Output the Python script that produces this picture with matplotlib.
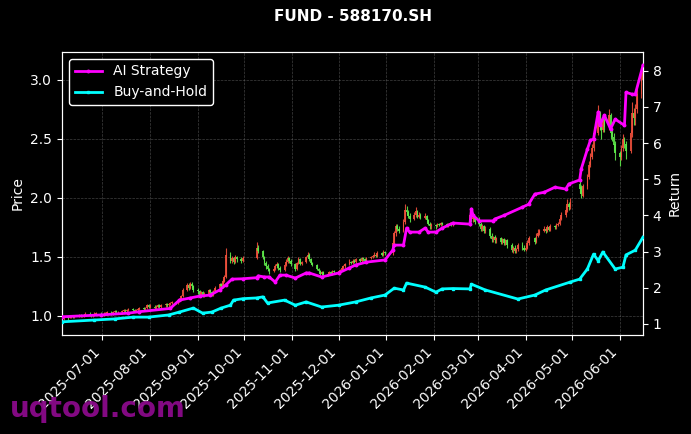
import matplotlib
matplotlib.use("Agg")
import matplotlib.pyplot as plt
import matplotlib.dates as mdates
import numpy as np
import pandas as pd

# trading calendar (CN holidays removed)
holidays = ["2025-10-01", "2025-10-02", "2025-10-03", "2025-10-06", "2025-10-07",
            "2025-10-08", "2026-01-01", "2026-01-02", "2026-02-16", "2026-02-17",
            "2026-02-18", "2026-02-19", "2026-02-20", "2026-02-23", "2026-04-06",
            "2026-05-01", "2026-05-04", "2026-05-05"]

# daily OHLC, one row per month (Jun 2025 .. Jun 2026)
open_ = [
    0.97, 0.98, 0.99, 0.98, 0.99, 1.00, 0.99, 1.00, 1.01, 1.00, 1.00, 1.01, 1.02, 1.01, 1.00, 1.01, 1.02, 1.02,
    1.01, 1.01, 1.02, 1.02, 1.03, 1.02, 1.03, 1.04, 1.03, 1.03, 1.04, 1.05, 1.04, 1.05, 1.06, 1.05, 1.04, 1.05, 1.06, 1.07, 1.06, 1.07, 1.09,
    1.08, 1.08, 1.07, 1.08, 1.09, 1.08, 1.09, 1.10, 1.09, 1.10, 1.11, 1.12, 1.11, 1.13, 1.14, 1.17, 1.22, 1.26, 1.24, 1.27, 1.25,
    1.22, 1.21, 1.18, 1.20, 1.17, 1.19, 1.22, 1.20, 1.18, 1.21, 1.24, 1.27, 1.25, 1.30, 1.33, 1.52, 1.47, 1.49, 1.46, 1.50, 1.48, 1.47,
    1.49, 1.58, 1.55, 1.50, 1.45, 1.42, 1.40, 1.38, 1.40, 1.42, 1.44, 1.41, 1.39, 1.43, 1.46, 1.49, 1.47,
    1.44, 1.40, 1.45, 1.48, 1.44, 1.46, 1.50, 1.52, 1.48, 1.45, 1.43, 1.40, 1.38, 1.36, 1.37, 1.35, 1.36, 1.37, 1.36, 1.38,
    1.37, 1.38, 1.39, 1.41, 1.42, 1.44, 1.46, 1.45, 1.47, 1.46, 1.48, 1.47, 1.49, 1.48, 1.47, 1.49, 1.50, 1.51, 1.52, 1.51, 1.53, 1.52, 1.54,
    1.53, 1.62, 1.70, 1.76, 1.74, 1.72, 1.80, 1.90, 1.88, 1.85, 1.82, 1.86, 1.89, 1.84, 1.86, 1.83, 1.85, 1.81, 1.78, 1.76,
    1.77, 1.76, 1.78, 1.77, 1.79, 1.78, 1.76, 1.78, 1.79, 1.77, 1.78, 1.86, 1.82, 1.84,
    1.80, 1.78, 1.74, 1.76, 1.72, 1.74, 1.68, 1.65, 1.67, 1.64, 1.66, 1.63, 1.65, 1.62, 1.64, 1.60, 1.56, 1.58, 1.55, 1.57, 1.60, 1.58,
    1.56, 1.58, 1.62, 1.66, 1.63, 1.68, 1.70, 1.72, 1.74, 1.72, 1.75, 1.73, 1.76, 1.75, 1.77, 1.78, 1.82, 1.86, 1.90, 1.95, 1.92,
    2.12, 2.09, 2.02, 2.10, 2.18, 2.28, 2.35, 2.42, 2.55, 2.72, 2.64, 2.58, 2.66, 2.62, 2.70, 2.56, 2.52, 2.46,
    2.38, 2.35, 2.42, 2.50, 2.46, 2.40, 2.55, 2.72, 2.68, 2.75, 2.88, 3.00,
]
high = [
    0.99, 1.00, 0.99, 1.00, 1.01, 1.01, 1.01, 1.02, 1.02, 1.01, 1.02, 1.03, 1.03, 1.02, 1.02, 1.03, 1.03, 1.03,
    1.02, 1.03, 1.03, 1.04, 1.04, 1.04, 1.05, 1.05, 1.04, 1.05, 1.06, 1.06, 1.06, 1.07, 1.07, 1.06, 1.06, 1.07, 1.08, 1.08, 1.08, 1.10, 1.10,
    1.10, 1.09, 1.09, 1.10, 1.10, 1.10, 1.11, 1.11, 1.11, 1.12, 1.13, 1.13, 1.14, 1.15, 1.18, 1.24, 1.28, 1.28, 1.29, 1.29, 1.26,
    1.24, 1.22, 1.21, 1.21, 1.20, 1.23, 1.23, 1.21, 1.22, 1.25, 1.28, 1.28, 1.31, 1.35, 1.58, 1.54, 1.51, 1.50, 1.52, 1.51, 1.50, 1.51,
    1.63, 1.60, 1.56, 1.51, 1.47, 1.44, 1.41, 1.41, 1.44, 1.46, 1.45, 1.42, 1.44, 1.48, 1.51, 1.50, 1.48,
    1.45, 1.46, 1.50, 1.49, 1.47, 1.51, 1.54, 1.53, 1.49, 1.46, 1.44, 1.41, 1.39, 1.38, 1.38, 1.37, 1.38, 1.38, 1.39, 1.39,
    1.39, 1.40, 1.42, 1.43, 1.45, 1.48, 1.47, 1.48, 1.48, 1.49, 1.49, 1.50, 1.50, 1.49, 1.50, 1.51, 1.52, 1.54, 1.53, 1.55, 1.54, 1.56, 1.55,
    1.64, 1.72, 1.78, 1.78, 1.76, 1.82, 1.95, 1.93, 1.90, 1.87, 1.88, 1.92, 1.90, 1.88, 1.87, 1.87, 1.86, 1.82, 1.80, 1.79,
    1.78, 1.79, 1.79, 1.80, 1.80, 1.79, 1.79, 1.80, 1.80, 1.79, 1.90, 1.88, 1.86, 1.85,
    1.84, 1.80, 1.78, 1.77, 1.76, 1.75, 1.70, 1.68, 1.69, 1.67, 1.67, 1.66, 1.66, 1.65, 1.65, 1.62, 1.59, 1.60, 1.58, 1.62, 1.63, 1.60,
    1.60, 1.64, 1.68, 1.67, 1.70, 1.74, 1.74, 1.76, 1.75, 1.77, 1.76, 1.78, 1.77, 1.79, 1.80, 1.84, 1.88, 1.93, 1.99, 1.97, 2.00,
    2.14, 2.11, 2.12, 2.20, 2.31, 2.38, 2.46, 2.60, 2.79, 2.74, 2.66, 2.70, 2.68, 2.75, 2.72, 2.58, 2.55, 2.48,
    2.40, 2.45, 2.54, 2.52, 2.48, 2.58, 2.81, 2.76, 2.80, 2.92, 3.05, 3.13,
]
low = [
    0.96, 0.97, 0.97, 0.98, 0.98, 0.98, 0.98, 0.99, 0.99, 0.99, 0.99, 1.00, 1.00, 0.99, 0.99, 1.00, 1.01, 1.00,
    1.00, 1.00, 1.01, 1.01, 1.01, 1.01, 1.02, 1.02, 1.02, 1.02, 1.03, 1.03, 1.03, 1.04, 1.04, 1.03, 1.03, 1.04, 1.05, 1.05, 1.05, 1.06, 1.07,
    1.07, 1.06, 1.06, 1.07, 1.07, 1.07, 1.08, 1.08, 1.08, 1.09, 1.10, 1.10, 1.10, 1.12, 1.13, 1.16, 1.21, 1.22, 1.23, 1.24, 1.20,
    1.19, 1.16, 1.17, 1.16, 1.16, 1.18, 1.19, 1.17, 1.17, 1.20, 1.23, 1.24, 1.24, 1.29, 1.32, 1.45, 1.45, 1.44, 1.45, 1.46, 1.45, 1.46,
    1.48, 1.53, 1.48, 1.43, 1.40, 1.38, 1.36, 1.37, 1.39, 1.41, 1.39, 1.37, 1.38, 1.42, 1.45, 1.45, 1.42,
    1.38, 1.39, 1.44, 1.43, 1.43, 1.45, 1.49, 1.47, 1.44, 1.42, 1.39, 1.37, 1.35, 1.35, 1.34, 1.34, 1.35, 1.35, 1.35, 1.36,
    1.36, 1.37, 1.38, 1.40, 1.41, 1.43, 1.44, 1.44, 1.45, 1.45, 1.46, 1.46, 1.47, 1.46, 1.46, 1.48, 1.49, 1.50, 1.50, 1.50, 1.51, 1.51, 1.52,
    1.52, 1.60, 1.68, 1.72, 1.70, 1.71, 1.78, 1.86, 1.83, 1.80, 1.81, 1.84, 1.83, 1.83, 1.82, 1.82, 1.80, 1.77, 1.74, 1.74,
    1.74, 1.75, 1.76, 1.76, 1.77, 1.75, 1.75, 1.77, 1.76, 1.76, 1.76, 1.80, 1.80, 1.78,
    1.76, 1.72, 1.72, 1.70, 1.70, 1.66, 1.63, 1.63, 1.62, 1.62, 1.61, 1.61, 1.60, 1.60, 1.58, 1.54, 1.53, 1.53, 1.53, 1.55, 1.56, 1.55,
    1.55, 1.57, 1.60, 1.61, 1.62, 1.67, 1.69, 1.71, 1.70, 1.71, 1.72, 1.72, 1.74, 1.74, 1.76, 1.77, 1.81, 1.84, 1.88, 1.90, 1.91,
    2.04, 2.00, 2.01, 2.08, 2.16, 2.26, 2.33, 2.40, 2.53, 2.58, 2.50, 2.56, 2.56, 2.58, 2.50, 2.48, 2.40, 2.32,
    2.27, 2.32, 2.40, 2.42, 2.33, 2.38, 2.52, 2.62, 2.62, 2.72, 2.85, 2.96,
]
close = [
    0.98, 0.99, 0.98, 0.99, 1.00, 0.99, 1.00, 1.01, 1.00, 1.00, 1.01, 1.02, 1.01, 1.00, 1.01, 1.02, 1.02, 1.01,
    1.01, 1.02, 1.02, 1.03, 1.02, 1.03, 1.04, 1.03, 1.03, 1.04, 1.05, 1.04, 1.05, 1.06, 1.05, 1.04, 1.05, 1.06, 1.07, 1.06, 1.07, 1.09, 1.08,
    1.08, 1.07, 1.08, 1.09, 1.08, 1.09, 1.10, 1.09, 1.10, 1.11, 1.12, 1.11, 1.13, 1.14, 1.17, 1.22, 1.26, 1.24, 1.27, 1.25, 1.22,
    1.21, 1.18, 1.20, 1.17, 1.19, 1.22, 1.20, 1.18, 1.21, 1.24, 1.27, 1.25, 1.30, 1.33, 1.52, 1.47, 1.49, 1.46, 1.50, 1.48, 1.47, 1.49,
    1.58, 1.55, 1.50, 1.45, 1.42, 1.40, 1.38, 1.40, 1.42, 1.44, 1.41, 1.39, 1.43, 1.46, 1.49, 1.47, 1.44,
    1.40, 1.45, 1.48, 1.44, 1.46, 1.50, 1.52, 1.48, 1.45, 1.43, 1.40, 1.38, 1.36, 1.37, 1.35, 1.36, 1.37, 1.36, 1.38, 1.37,
    1.38, 1.39, 1.41, 1.42, 1.44, 1.46, 1.45, 1.47, 1.46, 1.48, 1.47, 1.49, 1.48, 1.47, 1.49, 1.50, 1.51, 1.52, 1.51, 1.53, 1.52, 1.54, 1.53,
    1.62, 1.70, 1.76, 1.74, 1.72, 1.80, 1.90, 1.88, 1.85, 1.82, 1.86, 1.89, 1.84, 1.86, 1.83, 1.85, 1.81, 1.78, 1.76, 1.77,
    1.76, 1.78, 1.77, 1.79, 1.78, 1.76, 1.78, 1.79, 1.77, 1.78, 1.86, 1.82, 1.84, 1.80,
    1.78, 1.74, 1.76, 1.72, 1.74, 1.68, 1.65, 1.67, 1.64, 1.66, 1.63, 1.65, 1.62, 1.64, 1.60, 1.56, 1.58, 1.55, 1.57, 1.60, 1.58, 1.56,
    1.58, 1.62, 1.66, 1.63, 1.68, 1.70, 1.72, 1.74, 1.72, 1.75, 1.73, 1.76, 1.75, 1.77, 1.78, 1.82, 1.86, 1.90, 1.95, 1.92, 1.97,
    2.08, 2.03, 2.10, 2.18, 2.28, 2.35, 2.42, 2.55, 2.70, 2.62, 2.58, 2.66, 2.60, 2.70, 2.55, 2.52, 2.45, 2.38,
    2.35, 2.42, 2.50, 2.46, 2.40, 2.55, 2.72, 2.68, 2.75, 2.88, 3.00, 3.10,
]

# strategy curves (right axis)
ai_dates = ["2025-06-05", "2025-06-30", "2025-07-18", "2025-07-25", "2025-08-14", "2025-08-20",
            "2025-08-27", "2025-09-02", "2025-09-09", "2025-09-15", "2025-09-19", "2025-09-23",
            "2025-09-30", "2025-10-09", "2025-10-10", "2025-10-14", "2025-10-17", "2025-10-21",
            "2025-10-24", "2025-10-28", "2025-11-03", "2025-11-10", "2025-11-12", "2025-11-20",
            "2025-12-01", "2025-12-08", "2025-12-12", "2025-12-19", "2025-12-31", "2026-01-05",
            "2026-01-06", "2026-01-12", "2026-01-14", "2026-01-16", "2026-01-22", "2026-01-26",
            "2026-01-28", "2026-02-02", "2026-02-06", "2026-02-13", "2026-02-24", "2026-02-25",
            "2026-02-26", "2026-03-02", "2026-03-11", "2026-03-12", "2026-03-18", "2026-03-30",
            "2026-04-03", "2026-04-07", "2026-04-13", "2026-04-20", "2026-04-27", "2026-04-29",
            "2026-05-06", "2026-05-07", "2026-05-11", "2026-05-13", "2026-05-15", "2026-05-18",
            "2026-05-19", "2026-05-22", "2026-05-26", "2026-05-29", "2026-06-04", "2026-06-05",
            "2026-06-09", "2026-06-11", "2026-06-16"]
ai_ret = [1.20, 1.25, 1.30, 1.34, 1.43, 1.66,
          1.72, 1.77, 1.80, 1.94, 2.08, 2.24,
          2.25, 2.28, 2.33, 2.30, 2.30, 2.16,
          2.35, 2.35, 2.27, 2.41, 2.41, 2.30,
          2.41, 2.55, 2.63, 2.71, 2.77, 3.04,
          3.18, 3.18, 3.65, 3.54, 3.54, 3.65,
          3.54, 3.54, 3.65, 3.79, 3.76, 4.18,
          4.00, 3.85, 3.85, 3.90, 4.00, 4.23,
          4.31, 4.59, 4.64, 4.78, 4.73, 4.87,
          4.98, 5.28, 5.83, 6.08, 6.11, 6.86,
          6.49, 6.77, 6.39, 6.66, 6.49, 7.40,
          7.35, 7.35, 8.15]

bh_dates = ["2025-06-05", "2025-06-26", "2025-07-09", "2025-07-21", "2025-07-31", "2025-08-13",
            "2025-08-20", "2025-08-29", "2025-09-04", "2025-09-10", "2025-09-16", "2025-09-22",
            "2025-09-24", "2025-09-30", "2025-10-09", "2025-10-13", "2025-10-16", "2025-10-27",
            "2025-11-03", "2025-11-10", "2025-11-20", "2025-12-01", "2025-12-12", "2025-12-22",
            "2025-12-31", "2026-01-06", "2026-01-12", "2026-01-14", "2026-01-26", "2026-02-02",
            "2026-02-06", "2026-02-13", "2026-02-24", "2026-02-25", "2026-03-06", "2026-03-27",
            "2026-04-07", "2026-04-14", "2026-04-30", "2026-05-06", "2026-05-11", "2026-05-15",
            "2026-05-18", "2026-05-21", "2026-05-29", "2026-06-03", "2026-06-05", "2026-06-11",
            "2026-06-16"]
bh_ret = [1.06, 1.11, 1.14, 1.19, 1.19, 1.25,
          1.33, 1.44, 1.30, 1.33, 1.44, 1.52,
          1.66, 1.70, 1.72, 1.75, 1.58, 1.66,
          1.52, 1.61, 1.47, 1.52, 1.61, 1.72,
          1.80, 1.99, 1.94, 2.13, 2.02, 1.88,
          1.97, 1.98, 1.97, 2.10, 1.94, 1.69,
          1.80, 1.94, 2.16, 2.24, 2.52, 2.93,
          2.75, 2.99, 2.52, 2.57, 2.91, 3.04,
          3.40]

BG = "black"
UP, DOWN = "#f0503c", "#5ee84a"

dates = pd.bdate_range("2025-06-05", "2026-06-16")
dates = dates[~dates.isin(pd.to_datetime(holidays))]
n = min(len(dates), len(close))
dates = dates[:n]
o, h, l, c = (np.array(a[:n]) for a in (open_, high, low, close))
x = mdates.date2num(dates)

fig = plt.figure(figsize=(6.91, 4.34), dpi=100, facecolor=BG)
ax = fig.add_axes([62 / 691, 99 / 434, 581 / 691, 283 / 434], facecolor=BG)

up = c >= o
cols = np.where(up, UP, DOWN)
ax.vlines(x, l, h, colors=cols, linewidth=0.8, alpha=0.9, zorder=2)
ax.bar(x, np.maximum(np.abs(c - o), 0.004), bottom=np.minimum(o, c), width=1.1,
       color=cols, alpha=0.9, linewidth=0, zorder=2)

ax.set_xlim(mdates.date2num(pd.Timestamp("2025-06-05")), mdates.date2num(pd.Timestamp("2026-06-16")))
ax.set_ylim(0.839, 3.237)
ax.set_ylabel("Price", color="white", fontsize=10)
ax.grid(True, color="gray", linestyle="--", linewidth=0.5, alpha=0.5)
ax.xaxis.set_major_locator(mdates.MonthLocator())
ax.xaxis.set_major_formatter(mdates.DateFormatter("%Y-%m-%d"))
plt.setp(ax.get_xticklabels(), rotation=45, ha="right")

ax2 = ax.twinx()
ax2.plot(pd.to_datetime(ai_dates), ai_ret, color="magenta", lw=2, marker="o", ms=1.8,
         label="AI Strategy", zorder=3)
ax2.plot(pd.to_datetime(bh_dates), bh_ret, color="cyan", lw=2, marker="s", ms=1.8,
         label="Buy-and-Hold", zorder=3)
ax2.set_ylim(0.696, 8.517)
ax2.set_ylabel("Return", color="white", fontsize=10)

for a in (ax, ax2):
    a.tick_params(colors="white", labelsize=10)
    for s in a.spines.values():
        s.set_color("white")

ax2.legend(loc="upper left", facecolor=BG, edgecolor="white", labelcolor="white",
           fontsize=10, framealpha=1)

ax.set_title("FUND - 588170.SH", color="white", fontsize=11, fontweight="bold", pad=22)
fig.text(10 / 691, 17 / 434, "uqtool.com", color="#8a0a8a", fontsize=20, fontweight="bold",
         ha="left", va="baseline", alpha=0.95)

fig.savefig("out.png", dpi=100, facecolor=BG)
